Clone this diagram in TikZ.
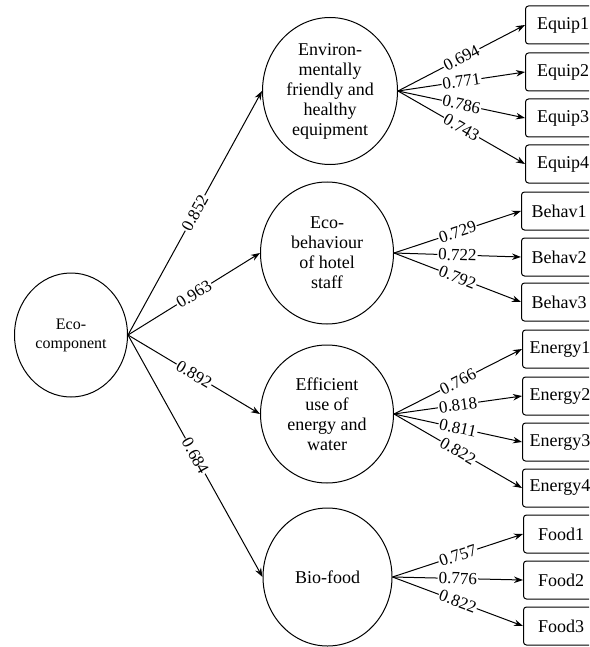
\documentclass[tikz,border=0pt]{standalone}
\usepackage{fontspec}
\setmainfont{Liberation Serif}
\usetikzlibrary{arrows.meta,shapes.geometric}
\begin{document}
\begin{tikzpicture}[x=1pt,y=-1pt,
  eco/.style={ellipse,draw,line width=1pt,minimum width=113pt,minimum height=124pt,inner sep=0pt,
    align=center,font=\fontsize{16}{19}\selectfont},
  factor/.style={ellipse,draw,line width=1pt,minimum width=133pt,minimum height=140pt,inner sep=0pt,
    align=center,font=\fontsize{18}{20}\selectfont},
  item/.style={draw,rounded corners=3pt,line width=1pt,minimum width=75pt,minimum height=38pt,
    inner sep=0pt,anchor=west,font=\fontsize{18}{20}\selectfont},
  link/.style={line width=1pt,-{Stealth[length=9pt,width=6.5pt]}},
  coef/.style={sloped,midway,fill=white,inner sep=1pt,font=\fontsize{17}{17}\selectfont}
]
\clip (0,0) rectangle (589,647);

% second-order construct
\node[eco] (eco) at (71,335) {Eco-\\component};

% first-order constructs
\node[factor,minimum width=135pt,minimum height=147pt] (f1) at (330,91)
  {Environ-\\mentally\\friendly and\\healthy\\equipment};
\node[factor,minimum height=142pt] (f2) at (327,253) {Eco-\\behaviour\\of hotel\\staff};
\node[factor,minimum height=138pt] (f3) at (327,414) {Efficient\\use of\\energy and\\water};
\node[factor,minimum width=129pt,minimum height=138pt] (f4) at (327.5,577) {Bio-food};

% indicators
\node[item] (e1) at (525,25)  {Equip1};
\node[item] (e2) at (525,72)  {Equip2};
\node[item] (e3) at (525,118) {Equip3};
\node[item] (e4) at (525,164) {Equip4};

\node[item] (b1) at (521,211) {Behav1};
\node[item] (b2) at (521,257) {Behav2};
\node[item] (b3) at (521,302) {Behav3};

\node[item] (n1) at (522,349) {Energy1};
\node[item] (n2) at (522,396) {Energy2};
\node[item] (n3) at (522,442) {Energy3};
\node[item] (n4) at (522,488) {Energy4};

\node[item] (d1) at (523,534) {Food1};
\node[item] (d2) at (523,580) {Food2};
\node[item] (d3) at (523,626) {Food3};

% structural paths
\draw[link] (eco.east) -- node[coef]{0.852} (f1.west);
\draw[link] (eco.east) -- node[coef]{0.963} (f2.west);
\draw[link] (eco.east) -- node[coef]{0.892} (f3.west);
\draw[link] (eco.east) -- node[coef]{0.684} (f4.west);

% loadings
\draw[link] (f1.east) -- node[coef]{0.694} (e1.west);
\draw[link] (f1.east) -- node[coef]{0.771} (e2.west);
\draw[link] (f1.east) -- node[coef]{0.786} (e3.west);
\draw[link] (f1.east) -- node[coef]{0.743} (e4.west);

\draw[link] (f2.east) -- node[coef]{0.729} (b1.west);
\draw[link] (f2.east) -- node[coef]{0.722} (b2.west);
\draw[link] (f2.east) -- node[coef]{0.792} (b3.west);

\draw[link] (f3.east) -- node[coef]{0.766} (n1.west);
\draw[link] (f3.east) -- node[coef]{0.818} (n2.west);
\draw[link] (f3.east) -- node[coef]{0.811} (n3.west);
\draw[link] (f3.east) -- node[coef]{0.822} (n4.west);

\draw[link] (f4.east) -- node[coef]{0.757} (d1.west);
\draw[link] (f4.east) -- node[coef]{0.776} (d2.west);
\draw[link] (f4.east) -- node[coef]{0.822} (d3.west);
\end{tikzpicture}
\end{document}
